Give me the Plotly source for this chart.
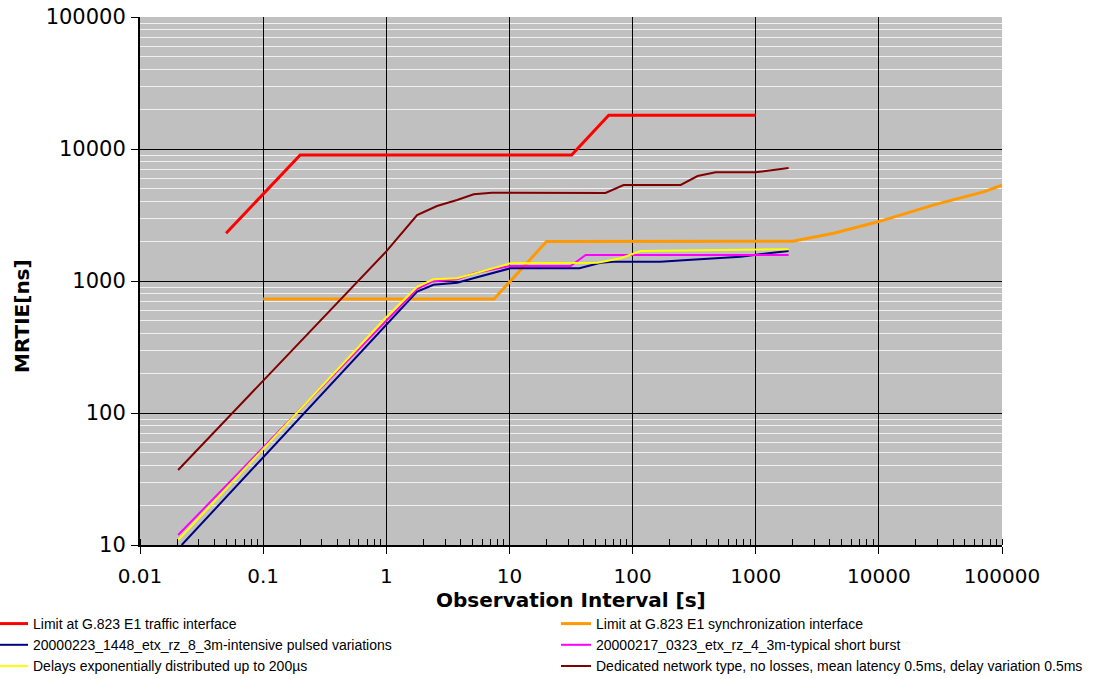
import plotly.graph_objects as go

# ---- data ----
traffic_x = [0.05, 0.2, 32, 64, 1000]
traffic_y = [2300, 9000, 9000, 18000, 18000]

sync_x = [0.1, 7.5, 20, 2000, 4300, 10000, 28000, 72000, 100000]
sync_y = [730, 730, 1990, 2000, 2300, 2820, 3770, 4750, 5330]

blue_x = [0.0218, 1.0, 1.78, 2.42, 3.76, 5.46, 10.2, 37, 45, 55, 70, 168, 279, 456, 755, 1320, 1850]
blue_y = [10, 464, 830, 935, 970, 1067, 1250, 1250, 1310, 1376, 1400, 1400, 1443, 1486, 1528, 1630, 1688]

pink_x = [0.0204, 1.0, 1.78, 2.35, 3.76, 5.13, 10.2, 31.4, 41.6, 1850]
pink_y = [11.9, 500, 870, 990, 1030, 1144, 1300, 1300, 1574, 1574]

yellow_x = [0.0204, 1.0, 1.78, 2.42, 3.76, 10.2, 51.9, 79.9, 116, 1850]
yellow_y = [10.9, 531, 905, 1030, 1048, 1362, 1376, 1486, 1688, 1740]

maroon_x = [0.0204, 1.0, 1.78, 2.58, 3.76, 5.13, 7.2, 60.3, 84.5, 246, 337, 473, 1000, 1850]
maroon_y = [37, 1675, 3160, 3700, 4110, 4540, 4670, 4650, 5340, 5340, 6240, 6660, 6660, 7180]

names = [
    "Limit at G.823 E1 traffic interface",
    "Limit at G.823 E1 synchronization interface",
    "20000223_1448_etx_rz_8_3m-intensive pulsed variations",
    "20000217_0323_etx_rz_4_3m-typical short burst",
    "Delays exponentially distributed up to 200\u00b5s",
    "Dedicated network type, no losses, mean latency 0.5ms, delay variation 0.5ms",
]

x_tickvals = [0.01, 0.1, 1, 10, 100, 1000, 10000, 100000]
x_ticktext = ["0.01", "0.1", "1", "10", "100", "1000", "10000", "100000"]
y_tickvals = [10, 100, 1000, 10000, 100000]
y_ticktext = ["10", "100", "1000", "10000", "100000"]

x_title = "Observation Interval [s]"
y_title = "MRTIE[ns]"

# (x, y, colour, width, legend column)
series = [
    (traffic_x, traffic_y, "#FF0000", 3, "legend"),
    (sync_x, sync_y, "#FF9900", 3, "legend2"),
    (blue_x, blue_y, "#000080", 2, "legend"),
    (pink_x, pink_y, "#FF00FF", 2, "legend2"),
    (yellow_x, yellow_y, "#FFFF00", 2, "legend"),
    (maroon_x, maroon_y, "#800000", 2, "legend2"),
]

fig = go.Figure()
for (xs, ys, col, w, lg), nm in zip(series, names):
    fig.add_trace(go.Scatter(x=xs, y=ys, mode="lines", name=nm, legend=lg,
                             line=dict(color=col, width=w)))

W, H = 1099, 679
ML, MR, MT, MB = 140, 97, 17, 134
PW = W - ML - MR
leg_font = dict(family="Liberation Sans, Arial", size=14, color="black")
leg_common = dict(
    orientation="v",
    yref="container",
    y=1 - 608 / H, xanchor="left", yanchor="top",
    itemwidth=30,
    font=leg_font,
    bgcolor="rgba(0,0,0,0)",
    tracegroupgap=0,
)

fig.update_layout(
    width=W, height=H,
    margin=dict(l=ML, r=MR, t=MT, b=MB, autoexpand=False),
    paper_bgcolor="white",
    plot_bgcolor="#C0C0C0",
    font=dict(family="Liberation Sans, Arial", color="black"),
    showlegend=True,
    legend=dict(xref="paper", x=(-7 - ML) / PW, **leg_common),
    legend2=dict(xref="container", x=556 / W, **leg_common),
)

fig.update_xaxes(
    type="log", range=[-2, 5],
    tickvals=x_tickvals, ticktext=x_ticktext,
    tickfont=dict(family="DejaVu Sans", size=20),
    ticklabelstandoff=5,
    showgrid=True, gridcolor="black", gridwidth=1,
    ticks="outside", ticklen=7, tickcolor="black", tickwidth=1,
    showline=True, linecolor="black", linewidth=2,
    zeroline=False,
    minor=dict(dtick="D1", ticks="inside", ticklen=6, tickcolor="black",
               showgrid=False),
)
fig.update_yaxes(
    type="log", range=[1, 5],
    tickvals=y_tickvals, ticktext=y_ticktext,
    tickfont=dict(family="DejaVu Sans", size=21),
    ticklabelstandoff=1,
    showgrid=True, gridcolor="black", gridwidth=1,
    ticks="outside", ticklen=7, tickcolor="black", tickwidth=1,
    showline=True, linecolor="black", linewidth=2,
    zeroline=False,
    minor=dict(dtick="D1", ticks="", showgrid=True, gridcolor="#F0F0F0", gridwidth=1),
)

fig.add_annotation(text="<b>" + x_title + "</b>", xref="paper", yref="paper",
                   x=0.5, y=-0.104, xanchor="center", yanchor="middle", showarrow=False,
                   font=dict(family="DejaVu Sans", size=20, color="black"))
fig.add_annotation(text="<b>" + y_title + "</b>", xref="paper", yref="paper",
                   x=-0.137, y=0.4337, xanchor="center", yanchor="middle", showarrow=False,
                   textangle=-90,
                   font=dict(family="DejaVu Sans", size=20, color="black"))

fig.write_html("out.html", config={"displayModeBar": False},
               post_script="document.body.style.margin='0';")
